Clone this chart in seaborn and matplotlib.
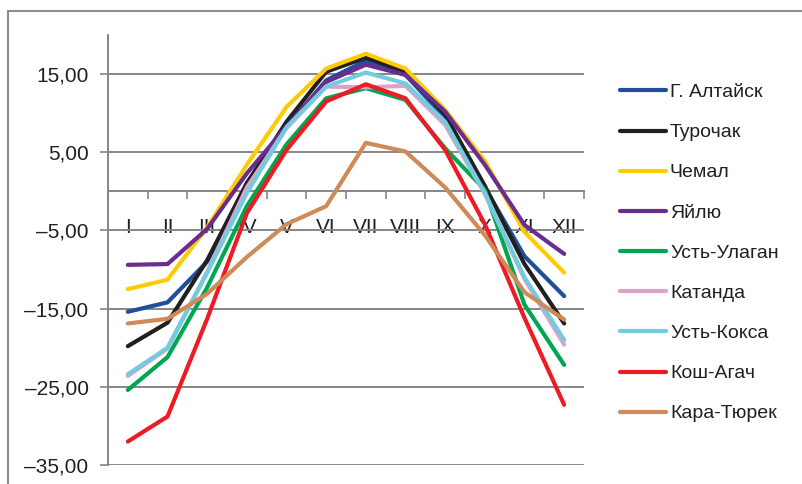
import numpy as np
import pandas as pd
import matplotlib
matplotlib.use("Agg")
import matplotlib.pyplot as plt
from matplotlib.lines import Line2D
from matplotlib.ticker import FixedLocator, FuncFormatter
import seaborn as sns

months = ["I", "II", "III", "IV", "V", "VI", "VII", "VIII", "IX", "X", "XI", "XII"]

gorno_altaysk = [-15.4, -14.2, -9.0, 1.1, 8.2, 14.2, 16.7, 14.9, 9.4, 0.5, -8.3, -13.4]
turochak      = [-19.8, -16.8, -8.8, 1.0, 8.9, 15.3, 17.1, 15.3, 9.8, 0.7, -9.3, -16.9]
chemal        = [-12.5, -11.3, -4.6, 3.4, 10.8, 15.7, 17.6, 15.7, 10.4, 3.9, -5.2, -10.4]
yaylyu        = [-9.4, -9.3, -4.8, 2.3, 8.3, 14.0, 16.2, 14.9, 10.2, 3.4, -4.3, -8.0]
ust_ulagan    = [-25.4, -21.2, -12.3, -1.9, 6.0, 11.9, 13.2, 11.7, 5.5, 0.2, -14.5, -22.2]
katanda       = [-23.6, -20.1, -10.3, 0.5, 8.1, 13.4, 13.3, 13.5, 8.5, -0.3, -11.2, -19.6]
ust_koksa     = [-23.4, -20.0, -10.4, -0.2, 8.2, 13.4, 15.2, 13.8, 8.9, -0.2, -11.0, -19.0]
kosh_agach    = [-32.0, -28.8, -16.3, -2.8, 5.3, 11.5, 13.7, 11.9, 5.3, -4.2, -16.2, -27.3]
kara_tyurek   = [-16.9, -16.3, -13.1, -8.4, -4.2, -1.9, 6.2, 5.1, 0.5, -5.6, -12.9, -16.4]

stations = ["Г. Алтайск", "Турочак", "Чемал", "Яйлю", "Усть-Улаган",
            "Катанда", "Усть-Кокса", "Кош-Агач", "Кара-Тюрек"]
series = [gorno_altaysk, turochak, chemal, yaylyu, ust_ulagan,
          katanda, ust_koksa, kosh_agach, kara_tyurek]
colors = ["#1F4E9A", "#231F20", "#FFCB05", "#6A2C91", "#00A651",
          "#DFA0C9", "#71CCE0", "#ED1C24", "#CF8A57"]

y_ticks = [-35, -25, -15, -5, 5, 15]

rows = []
for name, vals in zip(stations, series):
    for i, v in enumerate(vals):
        rows.append({"month": i, "station": name, "t": v})
df = pd.DataFrame(rows)

sns.set_style("white")
plt.rcParams["font.family"] = ["Liberation Sans", "DejaVu Sans"]

W, H = 803, 484
fig = plt.figure(figsize=(W / 100, H / 100), dpi=100)
ax = fig.add_axes([108 / W, 1 - 465 / H, 476 / W, 430 / H])

grid_c = "#868686"
text_c = "#231F20"

for yt in y_ticks:
    ax.axhline(yt, color=grid_c, lw=1.4, zorder=1)

sns.lineplot(data=df, x="month", y="t", hue="station", hue_order=stations,
             palette=dict(zip(stations, colors)), lw=3.0, ax=ax,
             legend=True, zorder=3, estimator=None)

ax.set_xlim(-0.5, 11.5)
ax.set_ylim(-35, 20)

for s in ["top", "right"]:
    ax.spines[s].set_visible(False)
ax.spines["left"].set_color(grid_c)
ax.spines["left"].set_linewidth(1.4)
ax.spines["bottom"].set_position(("data", 0))
ax.spines["bottom"].set_color(grid_c)
ax.spines["bottom"].set_linewidth(1.4)

ax.yaxis.set_major_locator(FixedLocator(y_ticks))
ax.yaxis.set_major_formatter(FuncFormatter(
    lambda v, p: f"{v:.2f}".replace(".", ",").replace("-", "\u2013")))
ax.tick_params(axis="y", direction="out", length=6, width=1.2, color=grid_c,
               labelsize=15, labelcolor=text_c, pad=8, left=True)

ax.set_xticks(np.arange(len(months)))
ax.set_xticklabels(months)
ax.set_xticks(np.arange(-0.5, len(months), 1.0), minor=True)
ax.tick_params(axis="x", which="major", length=0, labelsize=15,
               labelcolor=text_c, pad=19, bottom=True)
ax.tick_params(axis="x", which="minor", direction="out", length=6, width=1.2,
               color=grid_c, bottom=True)
ax.set_xlabel("")
ax.set_ylabel("")
ax.grid(False)

leg = ax.legend(loc="center left", bbox_to_anchor=(620 / W, 1 - 253 / H),
                bbox_transform=fig.transFigure, frameon=False, fontsize=14,
                handlelength=2.35, handletextpad=0.22, labelspacing=1.16,
                borderpad=0, borderaxespad=0, title=None)
for t in leg.get_texts():
    t.set_color(text_c)
for h in leg.get_lines():
    h.set_linewidth(3.0)

fig.add_artist(Line2D([8 / W, 1.0], [1 - 11 / H, 1 - 11 / H],
                      transform=fig.transFigure, color="#8C8C8C", lw=1.5))
fig.add_artist(Line2D([8 / W, 8 / W], [1 - 11 / H, 0.0],
                      transform=fig.transFigure, color="#8C8C8C", lw=1.5))

fig.savefig("out.png", dpi=100)
